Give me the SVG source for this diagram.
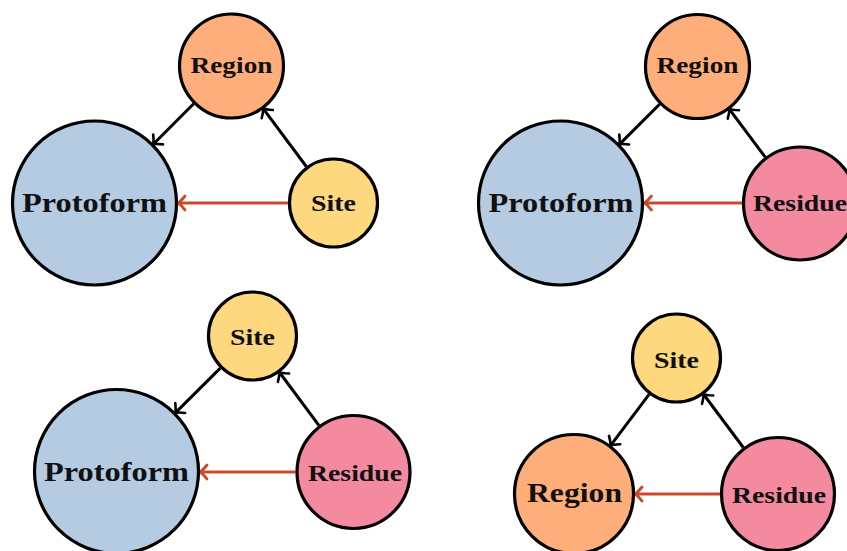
<svg xmlns="http://www.w3.org/2000/svg" width="847" height="551" viewBox="0 0 847 551">
<style>
.node{stroke:#000;stroke-width:3.2}
.region{fill:#FDAE7B}
.proto{fill:#B4CBE1}
.site{fill:#FED87F}
.res{fill:#F48A9F}
.lbl{font-family:"Liberation Serif","Times New Roman",serif;font-weight:bold;fill:#111;text-anchor:middle}
.s{font-size:23px}
.b{font-size:27.5px}
.edge{fill:none;stroke:#000;stroke-width:3;marker-end:url(#ah)}
.red{fill:none;stroke:#CC4A2B;stroke-width:3.2;marker-end:url(#ahr)}
</style>
<defs>
<marker id="ah" markerUnits="userSpaceOnUse" viewBox="-9 -9 11 18" refX="0" refY="0" markerWidth="11" markerHeight="18" orient="auto" overflow="visible">
<path d="M-6.5,-7 Q-2,-1.4 0.5,0 Q-2,1.4 -6.5,7" fill="none" stroke="#000" stroke-width="2.6" stroke-linecap="round"/>
</marker>
<marker id="ahr" markerUnits="userSpaceOnUse" viewBox="-9 -9 11 18" refX="0" refY="0" markerWidth="11" markerHeight="18" orient="auto" overflow="visible">
<path d="M-6.5,-7 Q-2,-1.4 0.5,0 Q-2,1.4 -6.5,7" fill="none" stroke="#CC4A2B" stroke-width="2.8" stroke-linecap="round"/>
</marker>
</defs>
<rect width="847" height="551" fill="#fff"/>
<g id="connectors">
<line class="edge" x1="193.7" y1="103.8" x2="153.5" y2="144"/>
<line class="edge" x1="306.3" y1="166.5" x2="263.4" y2="108.9"/>
<line class="red" x1="288" y1="203" x2="178.5" y2="203"/>
<line class="edge" x1="659.6" y1="104.3" x2="619.6" y2="144.1"/>
<line class="edge" x1="765.2" y1="157.1" x2="729.5" y2="109.3"/>
<line class="red" x1="742" y1="203" x2="645" y2="203"/>
<line class="edge" x1="220.3" y1="368.1" x2="175.6" y2="412.6"/>
<line class="edge" x1="318.9" y1="425.4" x2="279.6" y2="372.5"/>
<line class="red" x1="295.5" y1="472" x2="200.5" y2="472"/>
<line class="edge" x1="649.1" y1="394.3" x2="610.7" y2="445.3"/>
<line class="edge" x1="743.3" y1="447.5" x2="703.7" y2="394.5"/>
<line class="red" x1="720" y1="494" x2="635.5" y2="494"/>
</g>
<g id="tl-region"><circle class="node region" cx="231.5" cy="66" r="52"/><text class="lbl s" x="231.5" y="72.8" textLength="82" lengthAdjust="spacingAndGlyphs">Region</text></g>
<g id="tl-protoform"><circle class="node proto" cx="94.5" cy="203" r="82"/><text class="lbl b" x="94.5" y="211.5" textLength="145" lengthAdjust="spacingAndGlyphs">Protoform</text></g>
<g id="tl-site"><circle class="node site" cx="333.5" cy="203" r="44"/><text class="lbl s" x="333.5" y="211" textLength="45" lengthAdjust="spacingAndGlyphs">Site</text></g>
<g id="tr-region"><circle class="node region" cx="697.5" cy="66.5" r="52"/><text class="lbl s" x="697.5" y="73.3" textLength="82" lengthAdjust="spacingAndGlyphs">Region</text></g>
<g id="tr-protoform"><circle class="node proto" cx="560.5" cy="203" r="82"/><text class="lbl b" x="561" y="211.5" textLength="145" lengthAdjust="spacingAndGlyphs">Protoform</text></g>
<g id="tr-residue"><circle class="node res" cx="800" cy="203.5" r="56.5"/><text class="lbl s" x="800" y="211" textLength="94" lengthAdjust="spacingAndGlyphs">Residue</text></g>
<g id="bl-site"><circle class="node site" cx="252.5" cy="336" r="44"/><text class="lbl s" x="252.5" y="344.8" textLength="45" lengthAdjust="spacingAndGlyphs">Site</text></g>
<g id="bl-protoform"><circle class="node proto" cx="116.5" cy="471.5" r="82"/><text class="lbl b" x="116.5" y="480.5" textLength="145" lengthAdjust="spacingAndGlyphs">Protoform</text></g>
<g id="bl-residue"><circle class="node res" cx="353.5" cy="472" r="56.5"/><text class="lbl s" x="355" y="481" textLength="94" lengthAdjust="spacingAndGlyphs">Residue</text></g>
<g id="br-site"><circle class="node site" cx="676.5" cy="358" r="44"/><text class="lbl s" x="676.5" y="367.5" textLength="45" lengthAdjust="spacingAndGlyphs">Site</text></g>
<g id="br-region"><circle class="node region" cx="574" cy="494" r="59.5"/><text class="lbl b" x="574.5" y="502" textLength="95" lengthAdjust="spacingAndGlyphs">Region</text></g>
<g id="br-residue"><circle class="node res" cx="778" cy="494" r="56.5"/><text class="lbl s" x="779" y="502.5" textLength="94" lengthAdjust="spacingAndGlyphs">Residue</text></g>
</svg>
